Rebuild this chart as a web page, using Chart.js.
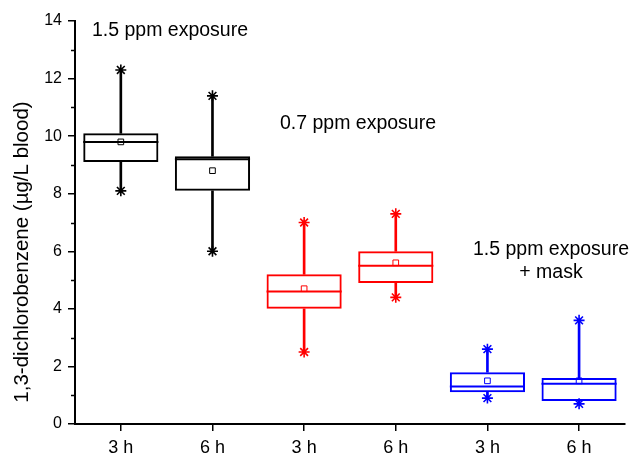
<html lang="en">
<head>
    <meta charset="UTF-8">
    <title>1,3-dichlorobenzene box plot</title>
    <script src="https://cdn.jsdelivr.net/npm/chart.js"></script>
    <style>
        body { margin: 0; background: #fff; }
        #wrap { width: 632px; height: 458px; }
    </style>
</head>
<body>
    <div id="wrap"><canvas id="boxChart"></canvas></div>

    <script>
        // Data
        const categories = ['3 h', '6 h', '3 h', '6 h', '3 h', '6 h'];
        const boxColors = ['#000000', '#000000', '#ff0000', '#ff0000', '#0000ff', '#0000ff'];
        const minValues = [8.1, 6.0, 2.5, 4.4, 0.9, 0.7];
        const q1Values = [9.1, 8.1, 4.0, 4.9, 1.1, 0.8];
        const medianValues = [9.8, 9.2, 4.6, 5.5, 1.3, 1.4];
        const q3Values = [10.1, 9.3, 5.2, 6.0, 1.8, 1.6];
        const maxValues = [12.3, 11.4, 7.0, 7.3, 2.6, 3.6];
        const meanValues = [9.8, 8.8, 4.7, 5.6, 1.5, 1.5];
        const groupLabels = [['1.5 ppm exposure'], ['0.7 ppm exposure'], ['1.5 ppm exposure', '+ mask']];
        const yTitle = '1,3-dichlorobenzene (\u00b5g/L blood)';

        const FONT = "'Liberation Sans', Arial, sans-serif";

        // medians, minor ticks, y title and group labels
        const boxExtras = {
            id: 'boxExtras',
            afterDatasetsDraw(chart) {
                const { ctx, scales: { x, y }, chartArea } = chart;
                const boxes = chart.getDatasetMeta(0);
                ctx.save();
                ctx.lineWidth = 2;
                boxes.data.forEach((bar, i) => {
                    const half = bar.width / 2;
                    const py = y.getPixelForValue(medianValues[i]);
                    ctx.strokeStyle = boxColors[i];
                    ctx.beginPath();
                    ctx.moveTo(bar.x - half, py);
                    ctx.lineTo(bar.x + half, py);
                    ctx.stroke();
                });

                // minor ticks on y
                ctx.strokeStyle = '#000';
                ctx.lineWidth = 1.5;
                for (let v = 1; v < 14; v += 2) {
                    const py = Math.round(y.getPixelForValue(v)) + 0.5;
                    ctx.beginPath();
                    ctx.moveTo(chartArea.left - 4, py);
                    ctx.lineTo(chartArea.left, py);
                    ctx.stroke();
                }

                ctx.fillStyle = '#000';
                ctx.textAlign = 'center';
                ctx.textBaseline = 'middle';

                // y axis title (sits a bit below the plot centre in the original)
                ctx.save();
                ctx.translate(22, 252);
                ctx.rotate(-Math.PI / 2);
                ctx.font = '20.5px ' + FONT;
                ctx.fillText(yTitle, 0, 0);
                ctx.restore();

                // group labels
                ctx.font = '19.5px ' + FONT;
                const spots = [[170, 31], [358, 124], [551, 250]];
                groupLabels.forEach((lines, g) => {
                    lines.forEach((t, k) => {
                        ctx.fillText(t, spots[g][0], spots[g][1] + k * 23);
                    });
                });
                ctx.restore();
            }
        };

        const ctx = document.getElementById('boxChart').getContext('2d');
        new Chart(ctx, {
            type: 'bar',
            data: {
                labels: categories,
                datasets: [
                    {
                        // boxes (Q1 - Q3)
                        data: q1Values.map((v, i) => [v, q3Values[i]]),
                        backgroundColor: 'rgba(0,0,0,0)',
                        borderColor: boxColors,
                        borderWidth: 2,
                        borderSkipped: false,
                        grouped: false,
                        categoryPercentage: 1,
                        barPercentage: 0.82
                    },
                    {
                        // lower whiskers
                        data: minValues.map((v, i) => [v, q1Values[i]]),
                        backgroundColor: boxColors,
                        borderWidth: 0,
                        grouped: false,
                        barThickness: 2
                    },
                    {
                        // upper whiskers
                        data: q3Values.map((v, i) => [v, maxValues[i]]),
                        backgroundColor: boxColors,
                        borderWidth: 0,
                        grouped: false,
                        barThickness: 2
                    },
                    {
                        type: 'line',
                        data: maxValues,
                        showLine: false,
                        pointStyle: 'star',
                        pointRadius: 5.5,
                        pointBorderWidth: 1.6,
                        pointBorderColor: boxColors,
                        pointBackgroundColor: boxColors
                    },
                    {
                        type: 'line',
                        data: minValues,
                        showLine: false,
                        pointStyle: 'star',
                        pointRadius: 5.5,
                        pointBorderWidth: 1.6,
                        pointBorderColor: boxColors,
                        pointBackgroundColor: boxColors
                    },
                    {
                        type: 'line',
                        data: meanValues,
                        showLine: false,
                        pointStyle: 'rect',
                        pointRadius: 4,
                        pointBorderWidth: 1,
                        pointBorderColor: boxColors,
                        pointBackgroundColor: '#ffffff'
                    }
                ]
            },
            options: {
                responsive: true,
                maintainAspectRatio: false,
                animation: false,
                layout: { padding: { top: 21, right: 6, left: 0, bottom: 0 } },
                plugins: {
                    legend: { display: false },
                    tooltip: { enabled: false }
                },
                scales: {
                    x: {
                        offset: true,
                        border: { color: '#000', width: 2 },
                        grid: { offset: false, drawOnChartArea: false, tickLength: 7, color: '#000', lineWidth: 1.5 },
                        ticks: { color: '#000', padding: 6, font: { family: FONT, size: 18 } },
                        afterFit(scale) { scale.height = 34; }
                    },
                    y: {
                        min: 0,
                        max: 14,
                        border: { color: '#000', width: 2 },
                        grid: {
                            drawOnChartArea: false,
                            tickLength: 7,
                            lineWidth: 1.5,
                            color: (c) => (c.tick && c.tick.value % 2 === 0 ? '#000' : 'rgba(0,0,0,0)')
                        },
                        ticks: {
                            stepSize: 1,
                            color: '#000',
                            padding: 6,
                            font: { family: FONT, size: 16 },
                            callback: (v) => (v % 2 === 0 ? v : '')
                        },
                        afterFit(scale) { scale.width = 75; }
                    }
                }
            },
            plugins: [boxExtras]
        });
    </script>
</body>
</html>
